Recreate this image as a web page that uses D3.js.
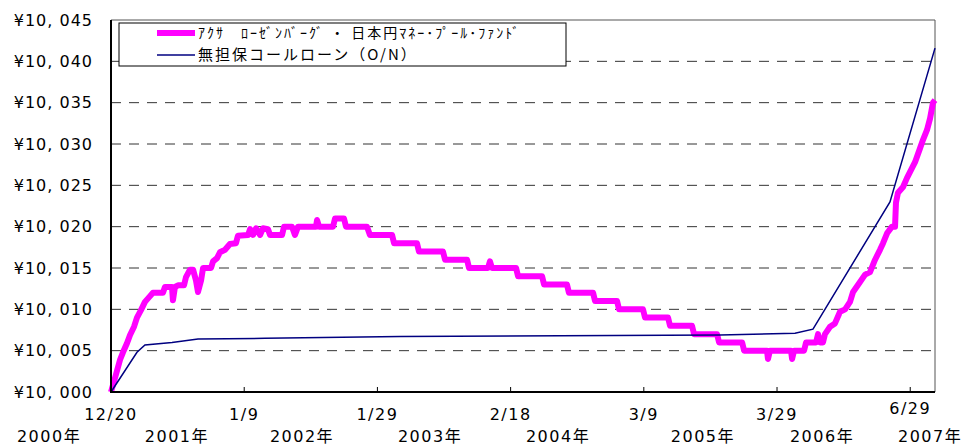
<!DOCTYPE html>
<html>
  <head>
    <meta charset="utf-8">
    <script src="https://d3js.org/d3.v7.min.js"></script>
    <style>
      body { margin: 0; background: #fff; }
      text { font-family: "DejaVu Sans", "Noto Sans CJK JP", sans-serif; }
      .jp { font-family: "Noto Sans CJK JP", sans-serif; }
    </style>
  </head>
<body>
  <script type="text/javascript">
    "use strict";

    // x is measured in tick steps: 0 = 12/20 (2000), 1 = 1/9 (2002), ...
    var tickLabels = ["12/20", "1/9", "1/29", "2/18", "3/9", "3/29", "6/29"];
    var yearLabels = ["2000年", "2001年", "2002年", "2003年", "2004年", "2005年", "2006年", "2007年"];
    var yearPos = [-0.465, 0.495, 1.434, 2.395, 3.356, 4.444, 5.338, 6.149];
    var yTicks = [10000, 10005, 10010, 10015, 10020, 10025, 10030, 10035, 10040, 10045];

    var seriesNames = ["ｱｸｻ　ﾛｰｾﾞﾝﾊﾞｰｸﾞ ・ 日本円ﾏﾈｰ･ﾌﾟｰﾙ･ﾌｧﾝﾄﾞ", "無担保コールローン（O/N）"];

    // fund NAV (yen)
    var fund = [[0,10000],[0.030,10001.7],[0.068,10003.9],[0.090,10004.8],[0.120,10005.9],[0.143,10006.9],
      [0.173,10007.9],[0.195,10009],[0.225,10009.9],[0.255,10010.9],[0.293,10011.6],[0.315,10012],[0.390,10012],
      [0.405,10012.7],[0.458,10012.7],[0.465,10011.1],[0.480,10012.7],[0.503,10012.9],[0.548,10012.9],[0.563,10013.9],
      [0.593,10014.8],[0.616,10014.8],[0.638,10013.5],[0.653,10012.1],[0.676,10013.5],[0.691,10015],[0.751,10015],
      [0.766,10015.8],[0.796,10016.2],[0.818,10016.9],[0.856,10017.2],[0.893,10017.9],[0.938,10018],[0.953,10018.9],
      [1.029,10019],[1.044,10019.7],[1.066,10019],[1.089,10019.8],[1.119,10019],[1.141,10019.8],[1.179,10019.7],
      [1.194,10019],[1.284,10019],[1.299,10020],[1.359,10020],[1.381,10019],[1.404,10020],[1.539,10020],
      [1.547,10020.8],[1.562,10020],[1.667,10020],[1.682,10021],[1.749,10021],[1.764,10020],[1.922,10020],
      [1.944,10019],[2.110,10019],[2.125,10018],[2.297,10018],[2.312,10017],[2.492,10017],[2.508,10016],
      [2.673,10016],[2.688,10015],[2.830,10015],[2.845,10015.8],[2.860,10015],[3.041,10015],[3.056,10014],
      [3.236,10014],[3.251,10013],[3.423,10013],[3.438,10012],[3.619,10012],[3.634,10011],[3.799,10011],
      [3.814,10010],[3.994,10010],[4.009,10009],[4.182,10009],[4.197,10008],[4.362,10008],[4.377,10007],
      [4.550,10007],[4.565,10006],[4.738,10006],[4.753,10005],[4.925,10005],[4.932,10004],[4.947,10005],
      [5.105,10005],[5.113,10004],[5.128,10005],[5.203,10005],[5.218,10006],[5.293,10006],[5.308,10007],
      [5.323,10006],[5.345,10006],[5.360,10007],[5.398,10007.9],[5.435,10008.3],[5.473,10009.7],[5.511,10010],
      [5.548,10010.9],[5.571,10012.1],[5.623,10013.3],[5.661,10014.2],[5.698,10014.5],[5.736,10016],
      [5.773,10017.2],[5.796,10018],[5.826,10019.2],[5.863,10020],[5.886,10020],[5.893,10022.9],[5.908,10024.1],
      [5.946,10024.8],[5.976,10025.9],[6.014,10027.1],[6.036,10027.8],[6.074,10029.5],[6.096,10030.5],
      [6.126,10031.7],[6.149,10033.1],[6.171,10035],[6.186,10035.3]];

    // call rate (O/N) accumulated
    var call = [[0,10000],[0.195,10004.8],[0.255,10005.7],[0.458,10006],[0.653,10006.4],[1.156,10006.5],
      [2.170,10006.7],[3.371,10006.8],[4.572,10006.9],[5.135,10007.1],[5.270,10007.6],[5.848,10023],[6.186,10041.6]];

    var width = 965, height = 447;
    var plotL = 111, plotR = 935, plotT = 20, plotB = 392;

    var svg = d3.select("body").append("svg")
      .attr("width", width)
      .attr("height", height);

    var x = d3.scaleLinear().domain([0, 6.186]).range([plotL, plotR]);
    var y = d3.scaleLinear().domain([10000, 10045]).range([plotB, plotT]);

    // gridlines
    svg.append("g").selectAll("line")
      .data(yTicks.filter(function (d) { return d > 10000 && d < 10045; }))
      .enter().append("line")
        .attr("x1", plotL).attr("x2", plotR)
        .attr("y1", function (d) { return y(d); })
        .attr("y2", function (d) { return y(d); })
        .attr("stroke", "#333")
        .attr("stroke-width", 1)
        .attr("stroke-dasharray", "10,8");

    // frame top / right
    svg.append("path")
      .attr("d", "M" + plotL + "," + y(10045) + "H" + x(6.186) + "V" + plotB)
      .attr("fill", "none")
      .attr("stroke", "#555")
      .attr("stroke-width", 1);

    // y axis labels
    svg.append("g").selectAll("text")
      .data(yTicks)
      .enter().append("text")
        .attr("x", 93)
        .attr("y", function (d) { return y(d); })
        .attr("dy", "0.36em")
        .attr("text-anchor", "end")
        .style("font-size", "16px")
        .style("letter-spacing", "1px")
        .text(function (d) { return "¥10, " + d3.format("03d")(d - 10000); });

    // x ticks
    svg.append("g").selectAll("line")
      .data(tickLabels)
      .enter().append("line")
        .attr("x1", function (d, i) { return x(i); })
        .attr("x2", function (d, i) { return x(i); })
        .attr("y1", plotB).attr("y2", plotB - 5)
        .attr("stroke", "#000");

    svg.append("g").selectAll("text")
      .data(tickLabels)
      .enter().append("text")
        .attr("x", function (d, i) { return x(i); })
        .attr("y", function (d, i) { return i === tickLabels.length - 1 ? 414 : 420; })
        .attr("text-anchor", "middle")
        .style("font-size", "16px")
        .style("letter-spacing", "1.5px")
        .text(function (d) { return d; });

    svg.append("g").selectAll("text")
      .data(yearLabels)
      .enter().append("text")
        .attr("x", function (d, i) { return x(yearPos[i]); })
        .attr("y", 442)
        .attr("text-anchor", "middle")
        .style("font-size", "16px")
        .style("letter-spacing", "1.5px")
        .text(function (d) { return d; });

    var line = d3.line()
      .x(function (d) { return x(d[0]); })
      .y(function (d) { return y(d[1]); });

    svg.append("path")
      .datum(fund)
      .attr("d", line)
      .attr("fill", "none")
      .attr("stroke", "#ff00ff")
      .attr("stroke-width", 6)
      .attr("stroke-linejoin", "round");

    svg.append("path")
      .datum(call)
      .attr("d", line)
      .attr("fill", "none")
      .attr("stroke", "#000080")
      .attr("stroke-width", 1.5);

    // axes
    svg.append("path")
      .attr("d", "M" + plotL + "," + plotT + "V" + plotB + "H" + plotR)
      .attr("fill", "none")
      .attr("stroke", "#000")
      .attr("stroke-width", 2);

    // legend
    var legend = svg.append("g");
    legend.append("rect")
      .attr("x", 119).attr("y", 23)
      .attr("width", 447).attr("height", 43)
      .attr("fill", "#fff")
      .attr("stroke", "#000");

    var legendColors = ["#ff00ff", "#000080"];
    var legendWidths = [6, 1.5];
    seriesNames.forEach(function (name, i) {
      var ly = 33 + i * 22;
      legend.append("line")
        .attr("x1", 157).attr("x2", 195)
        .attr("y1", ly).attr("y2", ly)
        .attr("stroke", legendColors[i])
        .attr("stroke-width", legendWidths[i]);
      legend.append("text")
        .attr("class", "jp")
        .attr("x", 198)
        .attr("y", ly)
        .attr("dy", "0.36em")
        .style("font-size", i === 0 ? "14px" : "15px")
        .style("letter-spacing", "2px")
        .text(name);
    });
  </script>
</body>
</html>
